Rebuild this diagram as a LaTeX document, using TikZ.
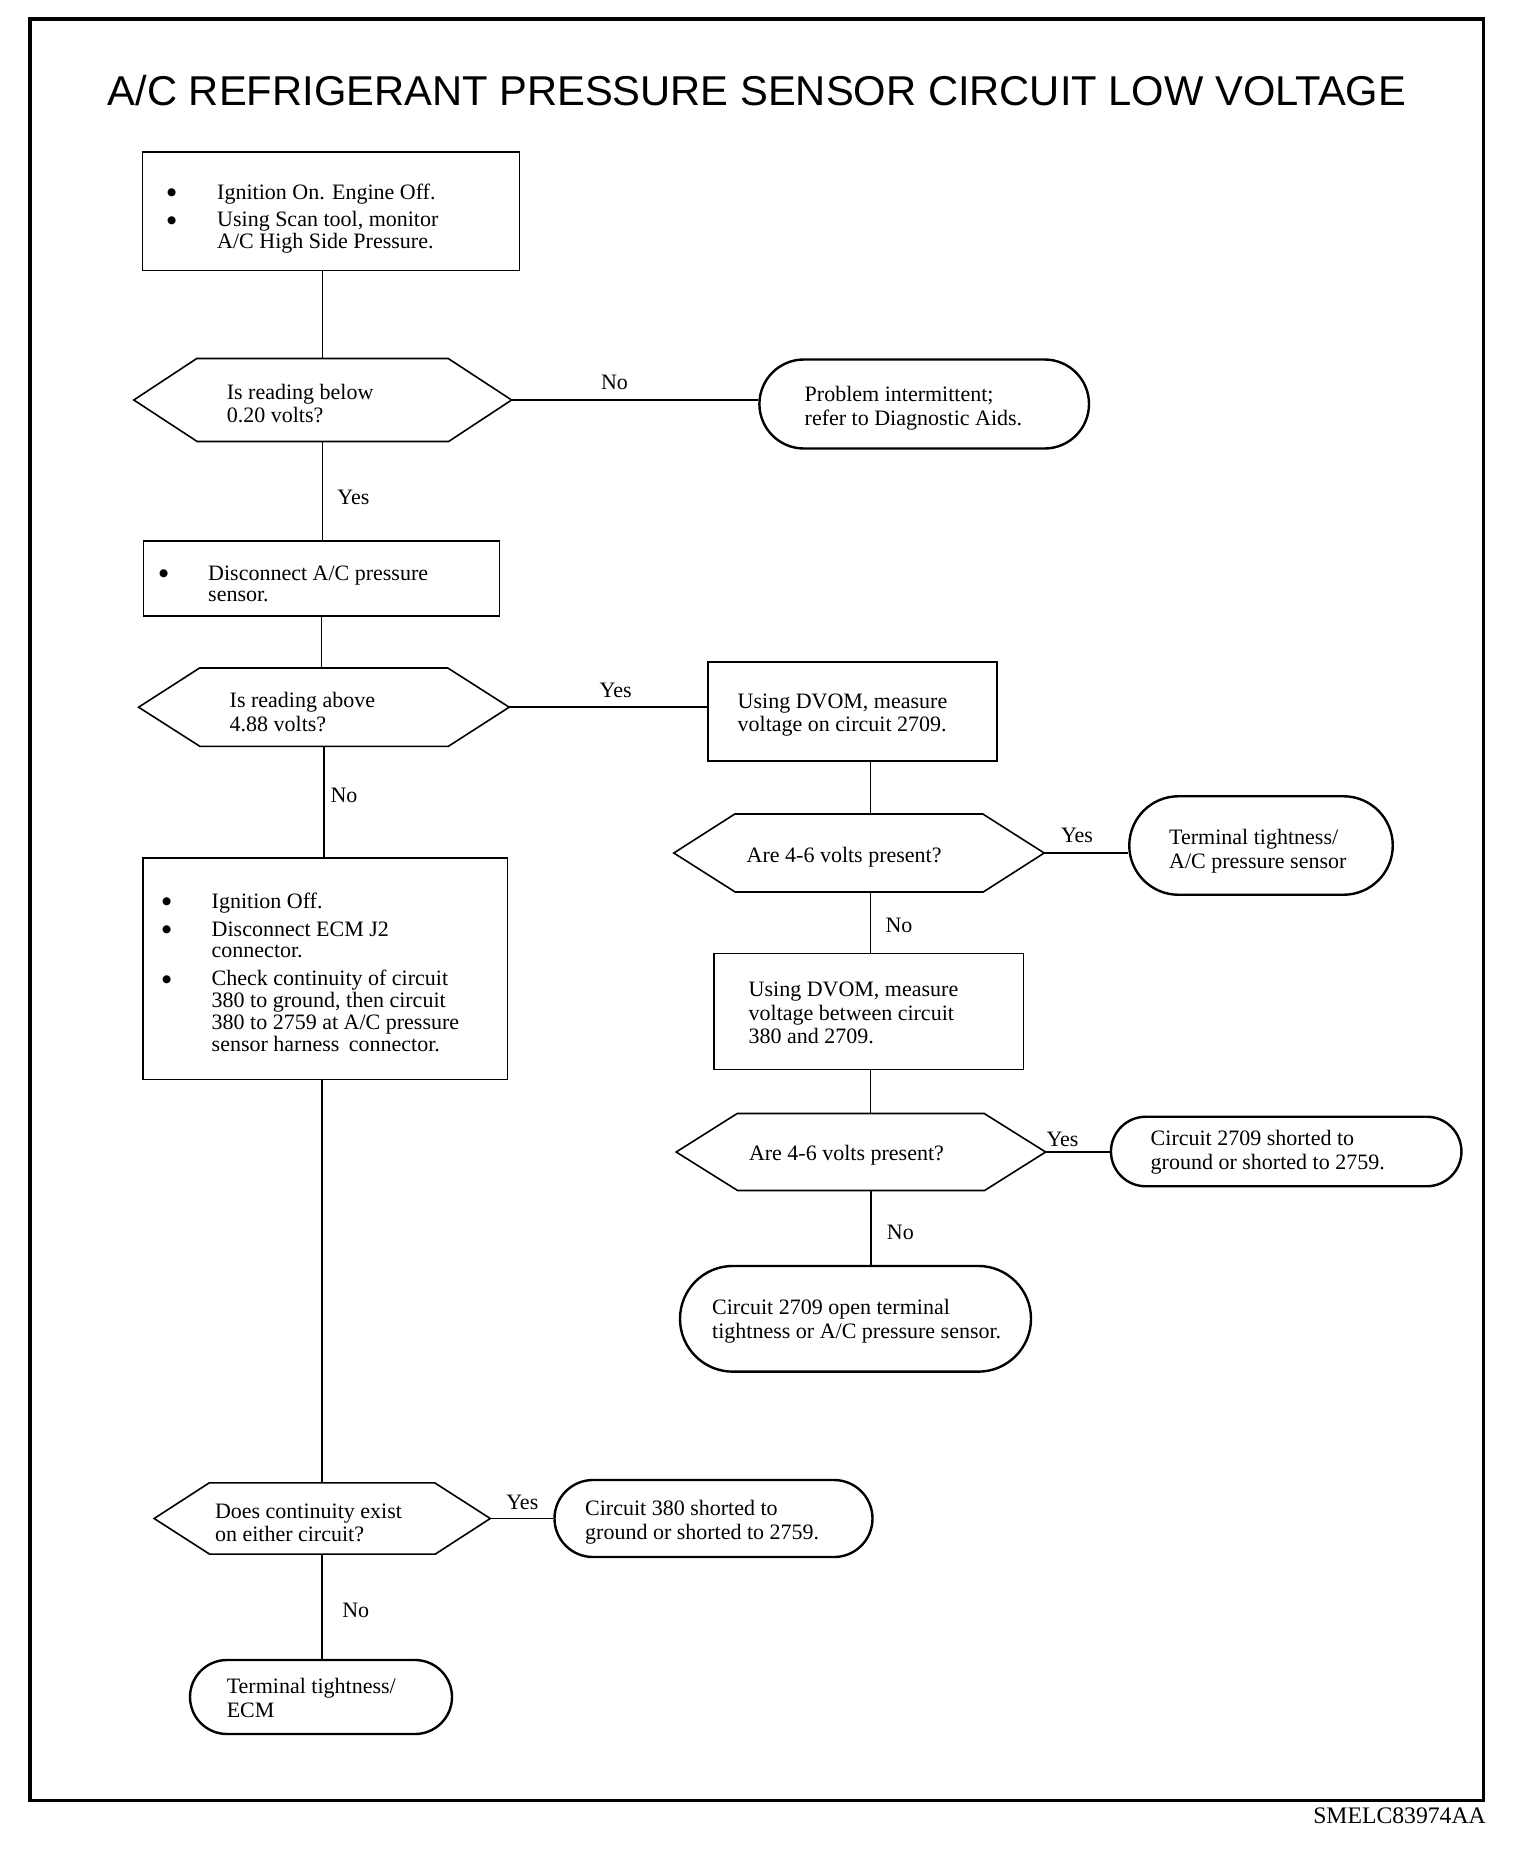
\documentclass[tikz,border=0pt]{standalone}
\usepackage{fontspec}
\setmainfont{Liberation Serif}
\newfontfamily\titlefont{Liberation Sans}
\newfontfamily\symfont{DejaVu Sans}
\usetikzlibrary{shapes.misc,calc}

\newcommand\bul[1]{\makebox[#1][l]{\raisebox{3.5pt}{\symfont\fontsize{10.5}{10.5}\selectfont ●}}}
\newcommand\hexnode[6]{%
  \node[hexhold, minimum width=#4pt, minimum height=#5pt] (#1) at (#2,#3) {};
  \draw[hexline] (#1.west) -- ++(#6,#5/2) -- ++(#4-2*#6,0) -- (#1.east)
     -- ++(-#6,-#5/2) -- ++(-#4+2*#6,0) -- cycle;
}

\tikzset{
  frameline/.style={line width=3.4pt},
  boxshape/.style={draw, line width=1.6pt, rectangle, inner sep=0pt},
  hexhold/.style={draw=none, rectangle, inner sep=0pt},
  hexline/.style={line width=1.6pt, line join=miter},
  termshape/.style={draw, line width=2.4pt, rounded rectangle, inner sep=0pt},
  conn/.style={line width=1.5pt},
  txt/.style={anchor=west, align=left, inner sep=0pt, font=\fontsize{22}{23.7}\selectfont},
  btxt/.style={anchor=west, align=left, inner sep=0pt, font=\fontsize{22}{21.7}\selectfont},
  lbl/.style={inner sep=0pt, font=\fontsize{22}{24}\selectfont},
  titlest/.style={inner sep=0pt, font=\titlefont\fontsize{41.7}{50}\selectfont},
}

\begin{document}
\begin{tikzpicture}[x=1pt,y=1pt]
\useasboundingbox (0,0) rectangle (1520,-1860);
\fill[white] (0,0) rectangle (1520,-1860);
\draw[frameline] (30,-19) rectangle (1483.5,-1800.5);

\node[titlest] (title) at (757,-91) {A/C REFRIGERANT PRESSURE SENSOR CIRCUIT LOW VOLTAGE};
\node[anchor=east, inner sep=0pt, font=\fontsize{23.7}{26}\selectfont] (code) at (1486,-1816) {SMELC83974AA};

% ---- shapes ----
\node[boxshape, minimum width=377.3pt, minimum height=118.6pt] (b1) at (331,-211.2) {};
\hexnode{h1}{322.7}{-400}{377.4}{83}{63}
\node[termshape, minimum width=329.6pt, minimum height=89pt] (t1) at (924.2,-404) {};
\node[boxshape, minimum width=356pt, minimum height=75pt] (b2) at (321.6,-578.5) {};
\hexnode{h2}{323.9}{-707.2}{370.2}{78.4}{61}
\node[boxshape, minimum width=288.7pt, minimum height=99pt] (b3) at (852.6,-711.5) {};
\hexnode{h3}{859}{-853}{370}{78}{61}
\node[termshape, minimum width=263.5pt, minimum height=98.5pt] (t2) at (1261,-845.5) {};
\node[boxshape, minimum width=309.5pt, minimum height=116pt] (b4) at (868.8,-1011.5) {};
\hexnode{h4}{860.9}{-1152}{369}{77}{61}
\node[termshape, minimum width=350.5pt, minimum height=69.5pt] (t3) at (1286.2,-1151.5) {};
\node[termshape, minimum width=351pt, minimum height=105.7pt] (t4) at (855.5,-1318.8) {};
\node[boxshape, minimum width=364.5pt, minimum height=221.5pt] (b5) at (325.2,-968.8) {};
\hexnode{h5}{322.2}{-1518.5}{335.7}{71.2}{55}
\node[termshape, minimum width=318pt, minimum height=77pt] (t5) at (713.5,-1518.5) {};
\node[termshape, minimum width=262pt, minimum height=74pt] (t6) at (321,-1697) {};

% ---- texts ----
\node[btxt] (b1t) at (167,-218.5) {\bul{50pt}Ignition On. Engine Off.\\[5.5pt]
  \bul{50pt}Using Scan tool, monitor\\ \hspace*{50pt}A/C High Side Pressure.};
\node[txt] (h1t) at (226.6,-403.5) {Is reading below\\0.20 volts?};
\node[txt] (t1t) at (804.5,-408) {Problem intermittent;\\refer to Diagnostic Aids.};
\node[btxt] (b2t) at (159,-584) {\bul{49pt}Disconnect A/C pressure\\ \hspace*{49pt}sensor.};
\node[txt] (h2t) at (229.5,-712) {Is reading above\\4.88 volts?};
\node[txt] (b3t) at (737.5,-715) {Using DVOM, measure\\voltage on circuit 2709.};
\node[txt] (h3t) at (746.5,-857) {Are 4-6 volts present?};
\node[txt] (t2t) at (1169,-851) {Terminal tightness/\\A/C pressure sensor};
\node[txt] (b4t) at (748.5,-1013) {Using DVOM, measure\\voltage between circuit\\380 and 2709.};
\node[txt] (h4t) at (748.8,-1155) {Are 4-6 volts present?};
\node[txt] (t3t) at (1150.5,-1152) {Circuit 2709 shorted to\\ground or shorted to 2759.};
\node[txt] (t4t) at (712,-1321) {Circuit 2709 open terminal\\tightness or A/C pressure sensor.};
\node[btxt] (b5t) at (162,-972) {\bul{49.5pt}Ignition Off.\\[6.3pt]
  \bul{49.5pt}Disconnect ECM J2\\ \hspace*{49.5pt}connector.\\[6.3pt]
  \bul{49.5pt}Check continuity of circuit\\ \hspace*{49.5pt}380 to ground, then circuit\\
  \hspace*{49.5pt}380 to 2759 at A/C pressure\\ \hspace*{49.5pt}sensor harness\hspace{4pt} connector.};
\node[txt] (h5t) at (214.8,-1523) {Does continuity exist\\on either circuit?};
\node[txt] (t5t) at (585,-1522.5) {Circuit 380 shorted to\\ground or shorted to 2759.};
\node[txt] (t6t) at (226.6,-1698) {Terminal tightness/\\ECM};

% ---- connectors ----
\draw[conn] (h1.north) -- (h1.north |- b1.south);
\draw[conn] (h1.east) -- (h1.east -| t1.west);
\draw[conn] (h1.south) -- (h1.south |- b2.north);
\draw[conn] (b2.south) -- (b2.south |- h2.north);
\draw[conn] (h2.east) -- (h2.east -| b3.west);
\draw[conn] (h2.south) -- (h2.south |- b5.north);
\draw[conn] ($(h3.north)+(11.5,0)$) -- ($(h3.north |- b3.south)+(11.5,0)$);
\draw[conn] (h3.east) -- (h3.east -| t2.west);
\draw[conn] ($(b4.north)+(1.7,0)$) -- ($(b4.north |- h3.south)+(1.7,0)$);
\draw[conn] ($(b4.south)+(1.7,0)$) -- ($(b4.south |- h4.north)+(1.7,0)$);
\draw[conn] (h4.east) -- (h4.east -| t3.west);
\draw[conn] ($(h4.south)+(10,0)$) -- ($(h4.south |- t4.north)+(10,0)$);
\draw[conn] (h5.north) -- (h5.north |- b5.south);
\draw[conn] (h5.east) -- (h5.east -| t5.west);
\draw[conn] (h5.south) -- (h5.south |- t6.north);

% ---- labels ----
\node[lbl] (l1) at (614.5,-382) {No};
\node[lbl] (l2) at (353.5,-497) {Yes};
\node[lbl] (l3) at (615.6,-690) {Yes};
\node[lbl] (l4) at (344,-795) {No};
\node[lbl] (l5) at (1077,-835) {Yes};
\node[lbl] (l6) at (899,-925) {No};
\node[lbl] (l7) at (1062.5,-1139) {Yes};
\node[lbl] (l8) at (900.3,-1232) {No};
\node[lbl] (l9) at (522.3,-1502) {Yes};
\node[lbl] (l10) at (355.8,-1610) {No};
\end{tikzpicture}
\end{document}
